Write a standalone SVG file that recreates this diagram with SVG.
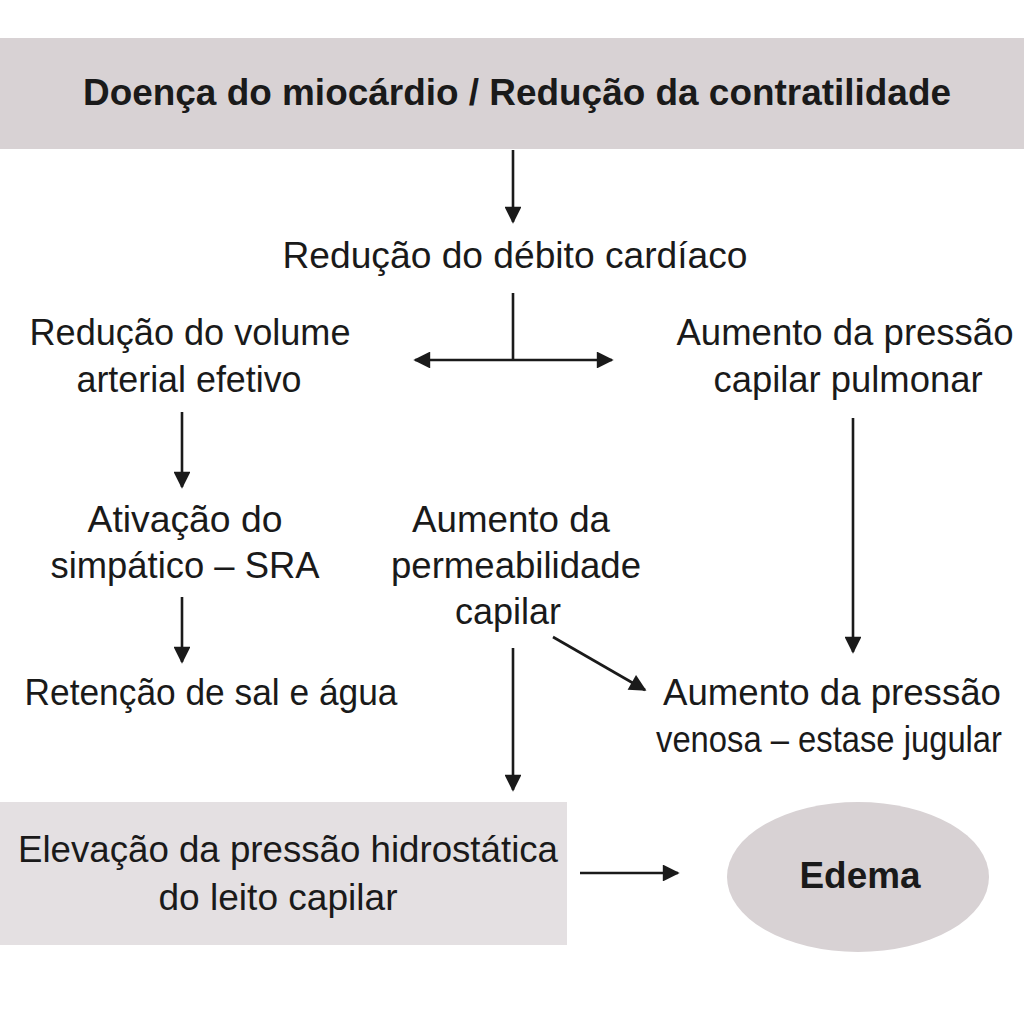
<svg xmlns="http://www.w3.org/2000/svg" width="1024" height="1024" viewBox="0 0 1024 1024">
<defs>
<marker id="ah" viewBox="0 0 10 10" refX="9" refY="5" markerWidth="7" markerHeight="6.5" markerUnits="strokeWidth" orient="auto-start-reverse">
<path d="M0,0 L10,5 L0,10 Z" fill="#1a1a1a"/>
</marker>
<style>
text{font-family:"Liberation Sans",Arial,sans-serif;font-size:36px;fill:#1a1a1a;text-anchor:middle}
.b{font-weight:bold}
.ln{stroke:#1a1a1a;stroke-width:2.6;fill:none}
.ar{marker-end:url(#ah)}
</style>
</defs>
<rect width="1024" height="1024" fill="#ffffff"/>
<g id="n-top">
<rect x="0" y="38" width="1024" height="111" fill="#d8d2d4"/>
<text class="b" x="517" y="105" font-size="34" textLength="868" lengthAdjust="spacingAndGlyphs">Doença do miocárdio / Redução da contratilidade</text>
</g>
<g id="n-debito">
<text x="515" y="268" textLength="465" lengthAdjust="spacingAndGlyphs">Redução do débito cardíaco</text>
</g>
<g id="n-volume">
<text x="190" y="345" textLength="321" lengthAdjust="spacingAndGlyphs">Redução do volume</text>
<text x="189" y="392" textLength="225" lengthAdjust="spacingAndGlyphs">arterial efetivo</text>
</g>
<g id="n-pulmonar">
<text x="845" y="345" textLength="337" lengthAdjust="spacingAndGlyphs">Aumento da pressão</text>
<text x="848" y="392" textLength="269" lengthAdjust="spacingAndGlyphs">capilar pulmonar</text>
</g>
<g id="n-simpatico">
<text x="185" y="532" textLength="195" lengthAdjust="spacingAndGlyphs">Ativação do</text>
<text x="185" y="578" textLength="269" lengthAdjust="spacingAndGlyphs">simpático – SRA</text>
</g>
<g id="n-permeab">
<text x="511" y="532" textLength="198" lengthAdjust="spacingAndGlyphs">Aumento da</text>
<text x="516" y="578" textLength="250" lengthAdjust="spacingAndGlyphs">permeabilidade</text>
<text x="508" y="624" textLength="106" lengthAdjust="spacingAndGlyphs">capilar</text>
</g>
<g id="n-retencao">
<text x="211" y="705" textLength="373" lengthAdjust="spacingAndGlyphs">Retenção de sal e água</text>
</g>
<g id="n-venosa">
<text x="663" y="705" style="text-anchor:start" textLength="338" lengthAdjust="spacingAndGlyphs">Aumento da pressão</text>
<text x="656" y="752" style="text-anchor:start" font-size="33" textLength="346" lengthAdjust="spacingAndGlyphs">venosa – estase jugular</text>
</g>
<g id="n-hidro">
<rect x="0" y="802" width="567" height="143" fill="#e4e0e2"/>
<text x="288" y="862" textLength="540" lengthAdjust="spacingAndGlyphs">Elevação da pressão hidrostática</text>
<text x="278" y="910" textLength="239" lengthAdjust="spacingAndGlyphs">do leito capilar</text>
</g>
<g id="n-edema">
<ellipse cx="858" cy="877" rx="131" ry="75" fill="#d8d2d4"/>
<text class="b" x="860" y="888" textLength="121" lengthAdjust="spacingAndGlyphs">Edema</text>
</g>
<g id="connectors">
<line class="ln ar" x1="513" y1="150" x2="513" y2="222"/>
<line class="ln" x1="513" y1="293" x2="513" y2="360"/>
<line class="ln ar" x1="513" y1="360" x2="612" y2="360"/>
<line class="ln ar" x1="513" y1="360" x2="415" y2="360"/>
<line class="ln ar" x1="182" y1="412" x2="182" y2="487"/>
<line class="ln ar" x1="182" y1="597" x2="182" y2="662"/>
<line class="ln ar" x1="853" y1="418" x2="853" y2="652"/>
<line class="ln ar" x1="513" y1="648" x2="513" y2="790"/>
<line class="ln ar" x1="553" y1="637" x2="645" y2="690"/>
<line class="ln ar" x1="580" y1="873" x2="678" y2="873"/>
</g>
</svg>
